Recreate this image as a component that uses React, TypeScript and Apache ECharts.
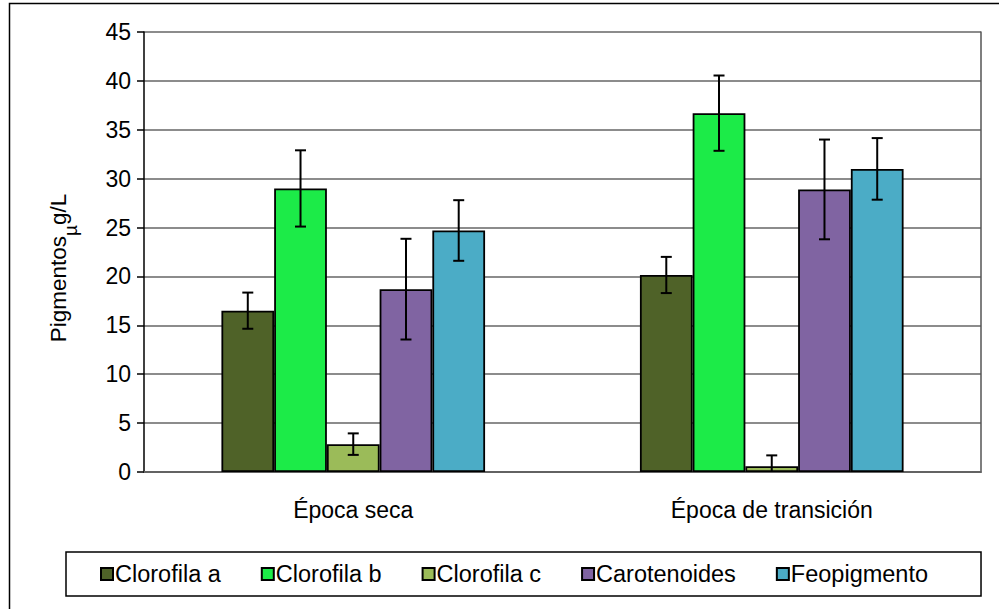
import React, { useEffect, useRef } from "react";
import * as echarts from "echarts";

const categories = ["Época seca", "Época de transición"];
const seriesNames = ["Clorofila a", "Clorofila b", "Clorofila c", "Carotenoides", "Feopigmento"];
const clorofilaA = [16.5, 20.15];
const clorofilaB = [29.0, 36.7];
const clorofilaC = [2.85, 0.6];
const carotenoides = [18.7, 28.9];
const feopigmento = [24.7, 31.0];
const errClorofilaA = [1.85, 1.85];
const errClorofilaB = [3.9, 3.85];
const errClorofilaC = [1.1, 1.1];
const errCarotenoides = [5.15, 5.1];
const errFeopigmento = [3.1, 3.15];
const colors = ["#4F6228", "#1CEB48", "#9BBB59", "#8064A2", "#4BACC6"];
const yTicks = { min: 0, max: 45, interval: 5 };

const FONT = "'Liberation Sans', Arial, sans-serif";
const GAP = 0.37;

export default function App() {
  const ref = useRef<HTMLDivElement>(null);
  useEffect(() => {
    if (!ref.current) return;
    const chart = echarts.init(ref.current, undefined, { renderer: "svg" });
    const values = [clorofilaA, clorofilaB, clorofilaC, carotenoides, feopigmento];
    const errs = [errClorofilaA, errClorofilaB, errClorofilaC, errCarotenoides, errFeopigmento];
    const n = seriesNames.length;

    const barSeries = seriesNames.map((name, k) => ({
      name,
      type: "bar",
      data: values[k],
      barGap: "0%",
      barCategoryGap: GAP * 100 + "%",
      itemStyle: { color: colors[k], borderColor: "#000", borderWidth: 1.8 },
      z: 2,
    }));

    const errSeries = seriesNames.map((name, k) => ({
      name: name + " error",
      type: "custom",
      clip: true,
      z: 5,
      data: values[k].map((v, i) => [i, v - errs[k][i], v + errs[k][i]]),
      renderItem: (params: any, api: any) => {
        const idx = api.value(0);
        const lo = api.value(1);
        const hi = api.value(2);
        const bandW = api.size([1, 0])[0];
        const barW = (bandW * (1 - GAP)) / n;
        const offset = (k - (n - 1) / 2) * barW;
        const pHi = api.coord([idx, hi]);
        const pLo = api.coord([idx, lo]);
        const x = pHi[0] + offset;
        const cap = 5.5;
        const st = { stroke: "#000", lineWidth: 2 };
        return {
          type: "group",
          children: [
            { type: "line", shape: { x1: x, y1: pHi[1], x2: x, y2: pLo[1] }, style: st },
            { type: "line", shape: { x1: x - cap, y1: pHi[1], x2: x + cap, y2: pHi[1] }, style: st },
            { type: "line", shape: { x1: x - cap, y1: pLo[1], x2: x + cap, y2: pLo[1] }, style: st },
          ],
        };
      },
    }));

    chart.setOption({
      animation: false,
      backgroundColor: "#fff",
      textStyle: { fontFamily: FONT },
      grid: { left: 144, top: 32, right: 18, bottom: 137 },
      legend: {
        data: seriesNames,
        left: 66,
        top: 552,
        orient: "horizontal",
        itemWidth: 12,
        itemHeight: 12,
        itemGap: 40,
        icon: "rect",
        padding: [10, 53, 10, 34],
        borderColor: "#000",
        borderWidth: 1.5,
        textStyle: { fontSize: 23.5, color: "#000", fontFamily: FONT, padding: [0, 0, 0, -3] },
      },
      xAxis: [
        {
          type: "category",
          data: categories,
          axisLine: { lineStyle: { color: "#8c8c8c", width: 2 } },
          axisTick: { show: false },
          axisLabel: { fontSize: 23, color: "#000", margin: 26, fontFamily: FONT },
        },
        {
          type: "category",
          position: "top",
          data: categories,
          axisLine: { show: true, lineStyle: { color: "#555", width: 1.5 } },
          axisTick: { show: false },
          axisLabel: { show: false },
        },
      ],
      yAxis: [
        {
          type: "value",
          min: yTicks.min,
          max: yTicks.max,
          interval: yTicks.interval,
          axisLine: { show: true, lineStyle: { color: "#000", width: 1.5 } },
          axisTick: { show: true, length: 7, lineStyle: { color: "#000", width: 1.5 } },
          axisLabel: { fontSize: 23, color: "#000", margin: 13, fontFamily: FONT },
          splitLine: { lineStyle: { color: "#8c8c8c", width: 2 } },
        },
        {
          type: "value",
          position: "right",
          min: yTicks.min,
          max: yTicks.max,
          interval: yTicks.interval,
          axisLine: { show: true, lineStyle: { color: "#555", width: 1.5 } },
          axisTick: { show: false },
          axisLabel: { show: false },
          splitLine: { show: false },
        },
      ],
      graphic: [
        {
          type: "rect",
          shape: { x: 9.5, y: 3.5, width: 2000, height: 2000 },
          style: { fill: "none", stroke: "#000", lineWidth: 1.5 },
          silent: true,
        },
        {
          type: "text",
          x: 58,
          y: 268,
          rotation: Math.PI / 2,
          style: {
            text: "{a|Pigmentos}{s|µ}{a|g/L}",
            align: "center",
            verticalAlign: "middle",
            fill: "#000",
            rich: {
              a: { fontSize: 22.5, fontFamily: FONT, lineHeight: 44, verticalAlign: "middle", fill: "#000" },
              s: { fontSize: 19, fontFamily: FONT, lineHeight: 44, verticalAlign: "bottom", fill: "#000" },
            },
          },
        },
      ],
      series: [...barSeries, ...errSeries],
    });
    return () => chart.dispose();
  }, []);
  return (
    <div
      ref={ref}
      style={{ position: "fixed", left: 0, top: 0, width: 999, height: 609, background: "#fff" }}
    />
  );
}
